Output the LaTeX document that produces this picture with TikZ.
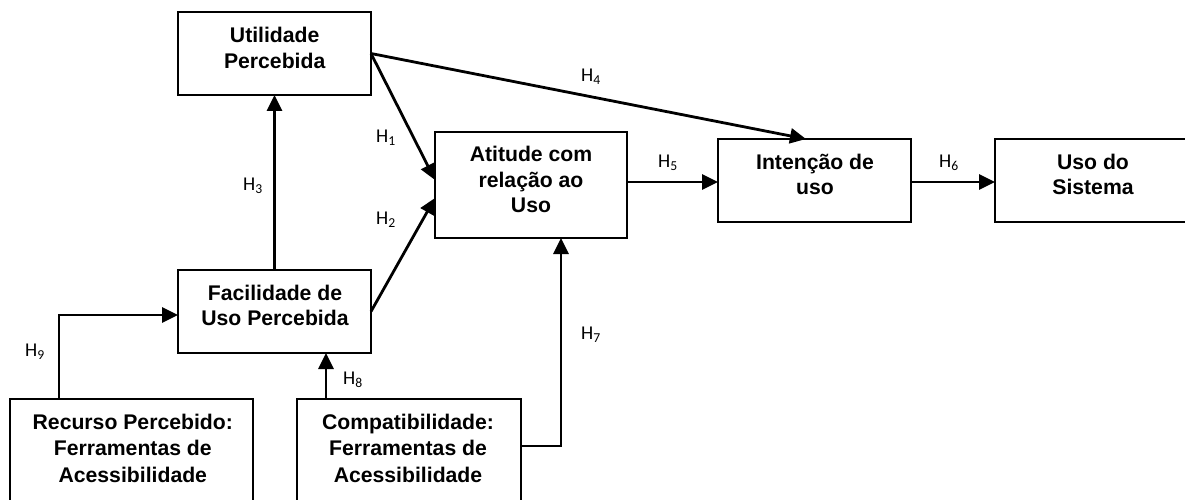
\documentclass[tikz,border=0pt]{standalone}
\usepackage{fontspec}
\setmainfont{Liberation Sans}
\newfontfamily\hfont{Carlito}
\usetikzlibrary{arrows.meta,calc}
\begin{document}
\begin{tikzpicture}[x=1pt,y=1pt,
  box/.style={draw, line width=2.2pt, inner sep=0pt, outer sep=0pt},
  btxt/.style={align=center, font=\fontsize{21.2}{25.5}\selectfont\bfseries, inner sep=0pt},
  btxtb/.style={align=center, font=\fontsize{21.2}{26.3}\selectfont\bfseries, inner sep=0pt},
  hl/.style={font=\hfont\fontsize{19.5}{21}\selectfont, inner sep=0pt},
  arr/.style={line width=2.8pt, -{Triangle[length=16pt,width=15pt]}}]
\clip (0,0) rectangle (1185,-500);
\fill[white] (0,0) rectangle (1185,-500);

% boxes
\node[box, minimum width=193pt, minimum height=83pt] (util) at (274.5,-53.5) {};
\node[box, minimum width=192pt, minimum height=106pt] (att) at (531,-185) {};
\node[box, minimum width=193pt, minimum height=83pt] (fac) at (274.5,-311.5) {};
\node[box, minimum width=193pt, minimum height=83pt] (int) at (814.5,-180.5) {};
\node[box, minimum width=196pt, minimum height=83pt] (uso) at (1093,-180.5) {};
\node[box, minimum width=243pt, minimum height=111pt] (rec) at (131.5,-454.5) {};
\node[box, minimum width=224pt, minimum height=111pt] (comp) at (409,-454.5) {};

% box texts
\node[btxt] (utilT) at (274.7,-50.2) {\strut Utilidade\\\strut Percebida};
\node[btxt] (attT) at (531,-182) {\strut Atitude com\\\strut relação ao\\\strut Uso};
\node[btxt] (facT) at (275,-307.8) {\strut Facilidade de\\\strut Uso Percebida};
\node[btxt] (intT) at (815,-177) {\strut Intenção de\\\strut uso};
\node[btxt] (usoT) at (1093,-177) {\strut Uso do\\\strut Sistema};
\node[btxtb] (recT) at (132.8,-450.5) {\strut Recurso Percebido:\\\strut Ferramentas de\\\strut Acessibilidade};
\node[btxtb] (compT) at (408,-450.5) {\strut Compatibilidade:\\\strut Ferramentas de\\\strut Acessibilidade};

% connectors
\draw[arr] (util.east) -- ($(att.west)+(0,5)$);
\draw[arr] (fac.east) -- ($(att.west)+(0,-13)$);
\draw[arr] (fac.north) -- (util.south);
\draw[arr] (util.east) -- ($(int.north west)+(88,0)$);
\draw[arr] (att.east |- 0,-182) -- (int.west |- 0,-182);
\draw[arr] (int.east |- 0,-182) -- (uso.west |- 0,-182);
\draw[arr] (comp.east |- 0,-446) -| ($(att.south)+(30,0)$);
\draw[arr] (comp.north -| 326,0) -- (fac.south -| 326,0);
\draw[arr] (rec.north -| 59,0) |- (fac.west |- 0,-315);

% labels
\node[hl] (h1) at (386,-138) {H\textsubscript{1}};
\node[hl] (h2) at (386,-220) {H\textsubscript{2}};
\node[hl] (h3) at (253,-186) {H\textsubscript{3}};
\node[hl] (h4) at (591,-77) {H\textsubscript{4}};
\node[hl] (h5) at (668,-163) {H\textsubscript{5}};
\node[hl] (h6) at (949,-163) {H\textsubscript{6}};
\node[hl] (h7) at (591,-335) {H\textsubscript{7}};
\node[hl] (h8) at (353,-380) {H\textsubscript{8}};
\node[hl] (h9) at (35,-352) {H\textsubscript{9}};
\end{tikzpicture}
\end{document}
